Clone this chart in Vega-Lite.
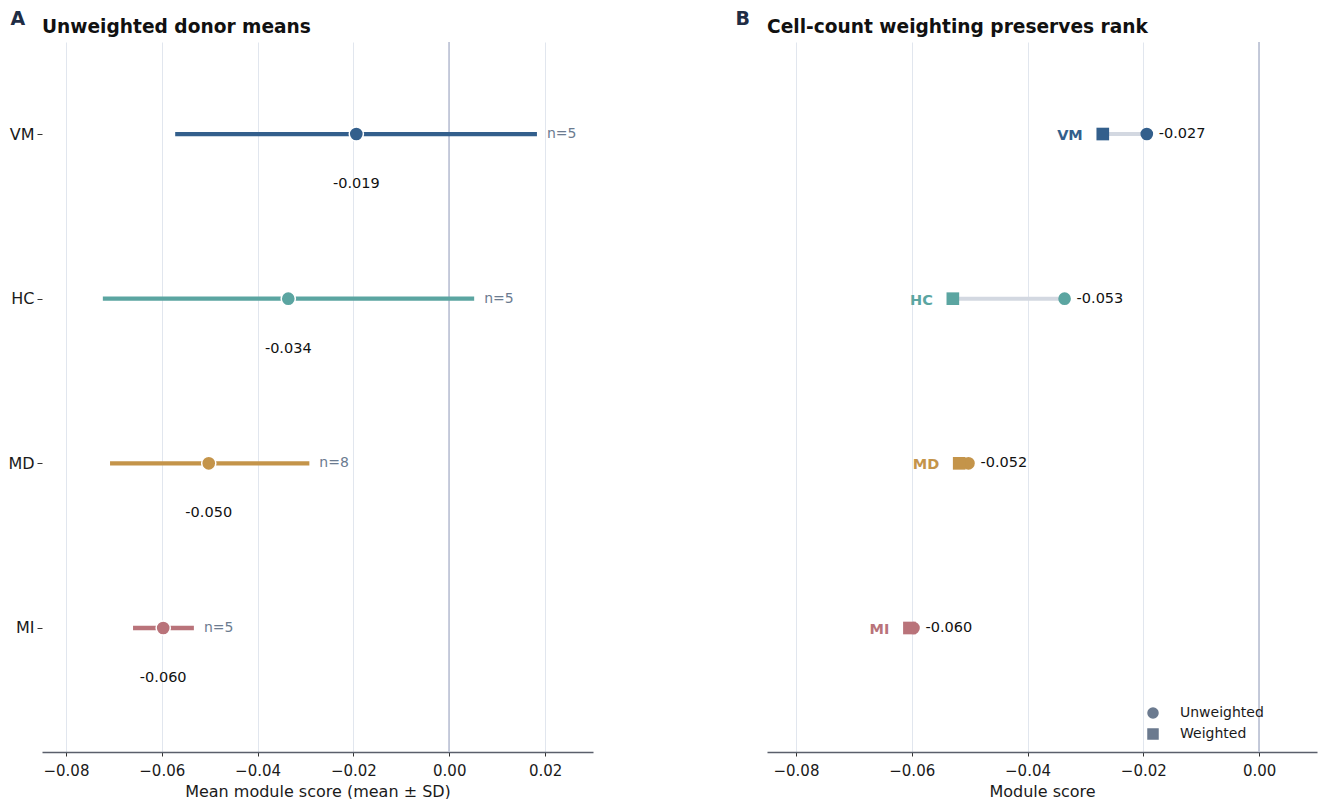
{
  "$schema": "https://vega.github.io/schema/vega-lite/v6.json",
  "background": "white",
  "padding": {"left": 7, "top": 9, "right": 10, "bottom": 0},
  "spacing": 142,
  "config": {
    "font": "DejaVu Sans",
    "view": {"stroke": null},
    "axis": {"labelFont": "DejaVu Sans", "labelFontSize": 15, "labelColor": "#1a1a1a", "titleFont": "DejaVu Sans", "titleFontSize": 16, "titleFontWeight": "normal", "titleColor": "#1a1a1a", "tickColor": "#333333", "domainColor": "#5a5f6b"},
    "title": {"font": "DejaVu Sans", "fontSize": 18.6, "fontWeight": "bold", "anchor": "start", "frame": "group", "color": "#111111", "offset": -27.5},
    "legend": {"labelFont": "DejaVu Sans"}
  },
  "datasets": {
    "a": [
      {"group": "VM", "mean": -0.0194, "lo": -0.0572, "hi": 0.0183, "n": "n=5", "label": "-0.019"},
      {"group": "HC", "mean": -0.0336, "lo": -0.0723, "hi": 0.0052, "n": "n=5", "label": "-0.034"},
      {"group": "MD", "mean": -0.0502, "lo": -0.0708, "hi": -0.0292, "n": "n=8", "label": "-0.050"},
      {"group": "MI", "mean": -0.0597, "lo": -0.0660, "hi": -0.0533, "n": "n=5", "label": "-0.060"}
    ],
    "b": [
      {"group": "VM", "Unweighted": -0.0194, "Weighted": -0.0270, "label": "-0.027"},
      {"group": "HC", "Unweighted": -0.0336, "Weighted": -0.0529, "label": "-0.053"},
      {"group": "MD", "Unweighted": -0.0502, "Weighted": -0.0518, "label": "-0.052"},
      {"group": "MI", "Unweighted": -0.0597, "Weighted": -0.0604, "label": "-0.060"}
    ]
  },
  "hconcat": [
    {
      "width": 551,
      "height": 710,
      "title": {"text": "Unweighted donor means"},
      "data": {"name": "a"},
      "layer": [
        {
          "mark": {"type": "rule", "color": "#c2c8d8", "strokeWidth": 1.3},
          "encoding": {
            "x": {"datum": 0, "type": "quantitative", "scale": {"domain": [-0.085, 0.03], "nice": false, "zero": false},
              "axis": {"title": "Mean module score (mean ± SD)", "values": [-0.08, -0.06, -0.04, -0.02, 0, 0.02], "format": ".2f", "grid": true, "gridColor": "#e1e6ee", "gridWidth": 1, "domainWidth": 1.5, "tickSize": 4, "labelPadding": 7, "titlePadding": 5}}
          }
        },
        {
          "mark": {"type": "rule", "strokeWidth": 4.3},
          "encoding": {
            "x": {"field": "lo", "type": "quantitative"},
            "x2": {"field": "hi"},
            "y": {"field": "group", "type": "nominal", "scale": {"type": "point", "domain": ["VM", "HC", "MD", "MI"], "padding": 0.656, "align": 0.426},
              "axis": {"title": "A", "titleAngle": 0, "titleX": -32, "titleY": -24, "titleAlign": "left", "titleBaseline": "middle", "titleFontSize": 19, "titleFontWeight": "bold", "titleColor": "#1f2d45", "domain": false, "ticks": true, "tickSize": 5, "labelPadding": 3, "labelFontSize": 16, "grid": false}},
            "color": {"field": "group", "type": "nominal", "scale": {"domain": ["VM", "HC", "MD", "MI"], "range": ["#335f8c", "#5ba5a1", "#c4944a", "#b9737a"]}, "legend": null}
          }
        },
        {
          "mark": {"type": "point", "filled": true, "opacity": 1, "size": 200, "stroke": "white", "strokeWidth": 1.5},
          "encoding": {
            "x": {"field": "mean", "type": "quantitative"},
            "y": {"field": "group", "type": "nominal"},
            "color": {"field": "group", "type": "nominal", "legend": null}
          }
        },
        {
          "mark": {"type": "text", "dy": 50, "fontSize": 14.5, "color": "#111111", "align": "center", "baseline": "middle"},
          "encoding": {
            "x": {"field": "mean", "type": "quantitative"},
            "y": {"field": "group", "type": "nominal"},
            "text": {"field": "label"}
          }
        },
        {
          "mark": {"type": "text", "dx": 10, "fontSize": 14, "color": "#6b7b90", "align": "left", "baseline": "middle"},
          "encoding": {
            "x": {"field": "hi", "type": "quantitative"},
            "y": {"field": "group", "type": "nominal"},
            "text": {"field": "n"}
          }
        }
      ]
    },
    {
      "width": 550,
      "height": 710,
      "title": {"text": "Cell-count weighting preserves rank"},
      "data": {"name": "b"},
      "layer": [
        {
          "mark": {"type": "rule", "color": "#c2c8d8", "strokeWidth": 1.3},
          "encoding": {
            "x": {"datum": 0, "type": "quantitative", "scale": {"domain": [-0.085, 0.01], "nice": false, "zero": false},
              "axis": {"title": "Module score", "values": [-0.08, -0.06, -0.04, -0.02, 0], "format": ".2f", "grid": true, "gridColor": "#e1e6ee", "gridWidth": 1, "domainWidth": 1.5, "tickSize": 4, "labelPadding": 7, "titlePadding": 5}}
          }
        },
        {
          "mark": {"type": "rule", "strokeWidth": 4, "color": "#d3d8e1"},
          "encoding": {
            "x": {"field": "Weighted", "type": "quantitative"},
            "x2": {"field": "Unweighted"},
            "y": {"field": "group", "type": "nominal", "scale": {"type": "point", "domain": ["VM", "HC", "MD", "MI"], "padding": 0.656, "align": 0.426},
              "axis": {"title": "B", "titleAngle": 0, "titleX": -32, "titleY": -24, "titleAlign": "left", "titleBaseline": "middle", "titleFontSize": 19, "titleFontWeight": "bold", "titleColor": "#1f2d45", "domain": false, "ticks": false, "labels": false, "grid": false}}
          }
        },
        {
          "transform": [{"fold": ["Unweighted", "Weighted"], "as": ["kind", "value"]}],
          "mark": {"type": "point", "filled": true, "opacity": 1, "size": 160},
          "encoding": {
            "x": {"field": "value", "type": "quantitative"},
            "y": {"field": "group", "type": "nominal"},
            "color": {"field": "group", "type": "nominal", "scale": {"domain": ["VM", "HC", "MD", "MI"], "range": ["#335f8c", "#5ba5a1", "#c4944a", "#b9737a"]}, "legend": null},
            "shape": {"field": "kind", "type": "nominal", "scale": {"domain": ["Unweighted", "Weighted"], "range": ["circle", "square"]},
              "legend": {"title": null, "orient": "none", "legendX": 1104, "legendY": 664, "symbolFillColor": "#6b7a8f", "symbolStrokeColor": "#6b7a8f", "symbolSize": 100, "labelFontSize": 14, "labelColor": "#1a1a1a", "labelOffset": 20, "rowPadding": 5, "padding": 0}}
          }
        },
        {
          "mark": {"type": "text", "dx": -20, "dy": 2, "fontSize": 14.5, "fontWeight": "bold", "align": "right", "baseline": "middle"},
          "encoding": {
            "x": {"field": "Weighted", "type": "quantitative"},
            "y": {"field": "group", "type": "nominal"},
            "text": {"field": "group"},
            "color": {"field": "group", "type": "nominal", "legend": null}
          }
        },
        {
          "mark": {"type": "text", "dx": 12, "fontSize": 14.5, "color": "#111111", "align": "left", "baseline": "middle"},
          "encoding": {
            "x": {"field": "Unweighted", "type": "quantitative"},
            "y": {"field": "group", "type": "nominal"},
            "text": {"field": "label"}
          }
        }
      ]
    }
  ]
}
